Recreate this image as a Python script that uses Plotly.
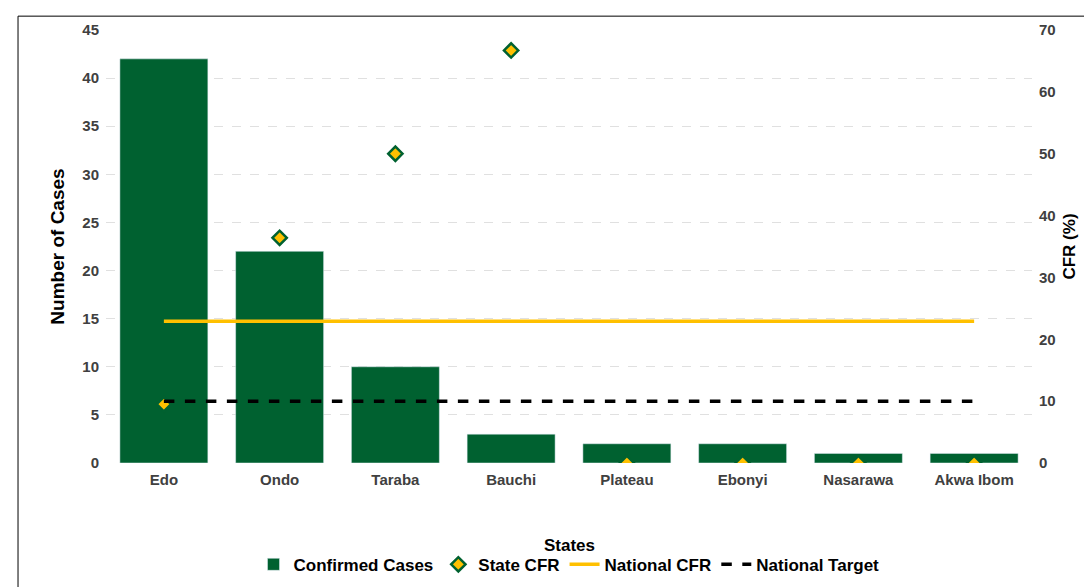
import plotly.graph_objects as go

states = ["Edo", "Ondo", "Taraba", "Bauchi", "Plateau", "Ebonyi", "Nasarawa", "Akwa Ibom"]
cases = [42, 22, 10, 3, 2, 2, 1, 1]
state_cfr = [9.5, 36.4, 50.0, 66.7, 0, 0, 0, 0]
national_cfr = [22.9] * 8
national_target = [10] * 8

fig = go.Figure()
fig.add_trace(go.Bar(x=states, y=cases, name="Confirmed Cases", marker_color="#006130", width=0.76))
fig.add_trace(go.Scatter(x=states, y=state_cfr, name="State CFR", mode="markers", yaxis="y2",
                         marker=dict(symbol="diamond", size=11, color="#FFC000", line=dict(color="#006130", width=2.5))))
fig.add_trace(go.Scatter(x=states, y=national_cfr, name="National CFR", mode="lines", yaxis="y2",
                         line=dict(color="#FFC000", width=3.5)))
fig.add_trace(go.Scatter(x=states, y=national_target, name="National Target", mode="lines", yaxis="y2",
                         line=dict(color="black", width=3.5, dash="dash")))

tf = dict(size=15, weight="bold", family="Liberation Sans, Arial", color="#404040")
fig.update_layout(
    width=1092, height=587, paper_bgcolor="white", plot_bgcolor="white",
    margin=dict(l=98, r=68, t=22, b=118),
    font=dict(family="Liberation Sans, Arial", size=15, color="black"),
    xaxis=dict(tickfont=tf, ticklabelstandoff=6, showline=False, automargin=False),
    yaxis=dict(title=dict(text="<b>Number of Cases</b>", font=dict(size=19), standoff=12), range=[0, 45], dtick=5,
               gridcolor="#e0e0e0", griddash="dash", zeroline=True, zerolinecolor="#bfbfbf",
               tickfont=tf, ticklabelstandoff=6),
    yaxis2=dict(title=dict(text="<b>CFR (%)</b>", font=dict(size=17), standoff=8), range=[0, 70], dtick=10,
                overlaying="y", side="right", showgrid=False, tickfont=tf, ticklabelstandoff=6),
    legend=dict(orientation="h", x=0.5, xanchor="center", y=-0.235, yanchor="middle",
                font=dict(size=17, weight="bold"), traceorder="normal", tracegroupgap=0,
                itemwidth=30),
    annotations=[dict(text="<b>States</b>", x=0.5, y=-0.19, xref="paper", yref="paper",
                      showarrow=False, font=dict(size=17), yanchor="middle")],
    shapes=[dict(type="rect", xref="paper", yref="paper", x0=-0.095, x1=1.08, y0=-0.4, y1=1.032,
                 line=dict(color="black", width=1))],
)
fig.write_html("out.html")
